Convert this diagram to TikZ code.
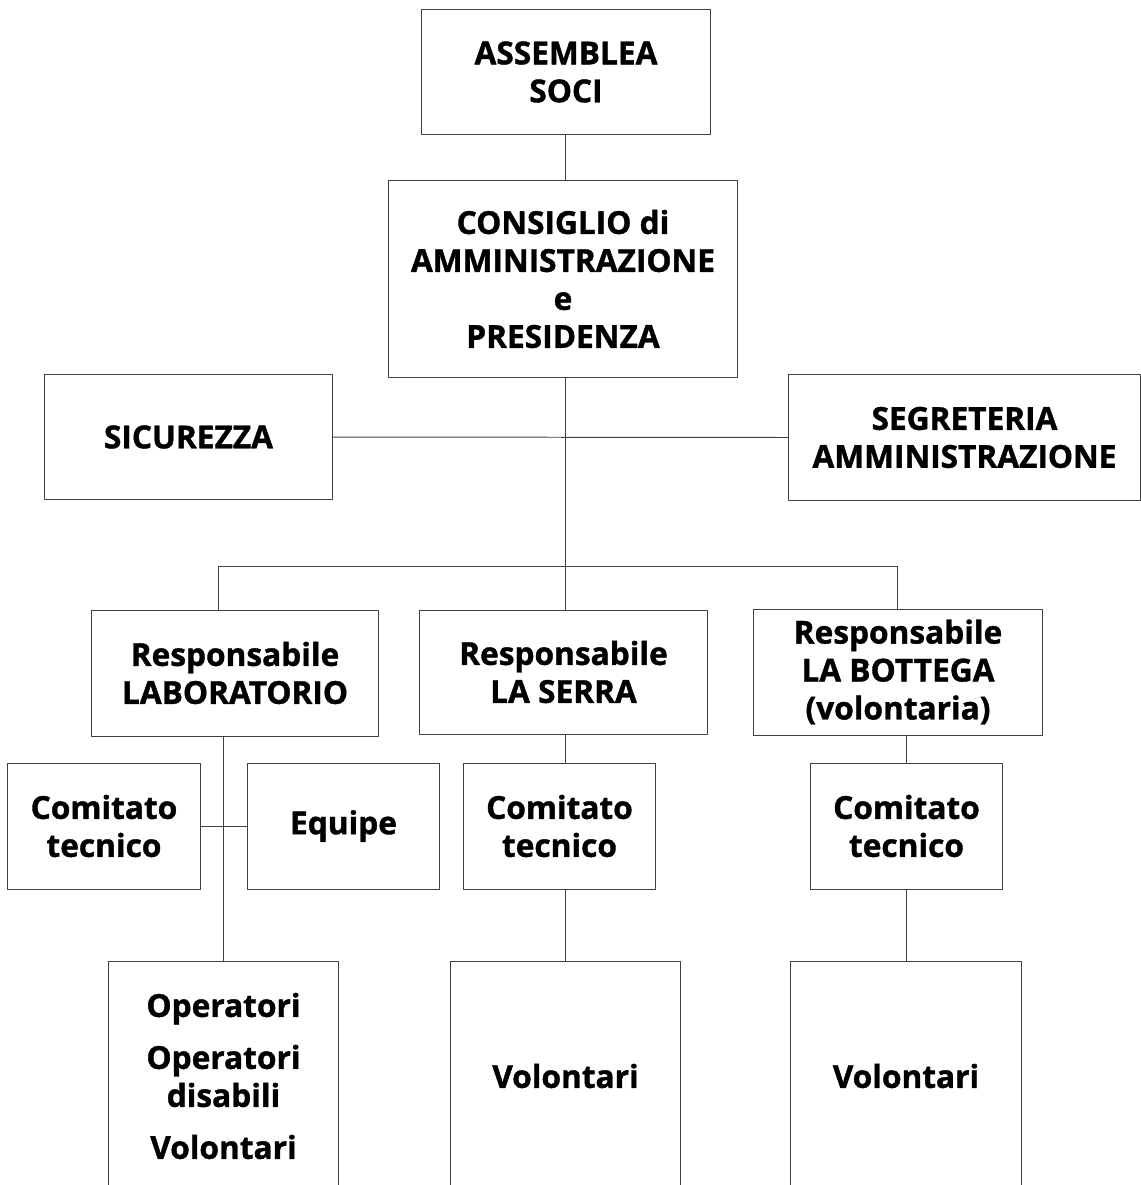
\documentclass[tikz,border=0pt]{standalone}
\usepackage{fontspec}
\setmainfont{Open Sans}[BoldFeatures={FakeBold=1.2}]
\usetikzlibrary{calc}

\begin{document}
\begin{tikzpicture}[x=0.025cm,y=-0.025cm,line join=round,
	box/.style={draw=black!75,line width=0.7pt,align=center,inner sep=0pt,
		font=\bfseries\fontsize{22.5}{27}\selectfont},
	link/.style={draw=black!75,line width=0.7pt}]
	\clip (0,0) rectangle (1141,1185);
	% vertice
	\node[box,minimum width=7.2cm,minimum height=3.1cm] (soci) at (566,72) {ASSEMBLEA\\SOCI};
	\node[box,minimum width=8.7cm,minimum height=4.9cm] (cda) at (563,279)
		{CONSIGLIO di\\AMMINISTRAZIONE\\e\\PRESIDENZA};
	\node[box,minimum width=7.175cm,minimum height=3.1cm] (sic) at (188.5,437) {SICUREZZA};
	\node[box,minimum width=8.775cm,minimum height=3.125cm] (seg) at (964.5,437.5)
		{SEGRETERIA\\AMMINISTRAZIONE};
	% responsabili
	\node[box,minimum width=7.15cm,minimum height=3.15cm] (lab) at (235,673) {Responsabile\\LABORATORIO};
	\node[box,minimum width=7.175cm,minimum height=3.1cm] (serra) at (563.5,672) {Responsabile\\LA SERRA};
	\node[box,minimum width=7.2cm,minimum height=3.15cm] (bott) at (898,672)
		{Responsabile\\LA BOTTEGA\\(volontaria)};
	% comitati
	\node[box,minimum width=4.8cm,minimum height=3.15cm] (ct1) at (104,826) {Comitato\\tecnico};
	\node[box,minimum width=4.775cm,minimum height=3.15cm] (equipe) at (343.5,826) {Equipe};
	\node[box,minimum width=4.8cm,minimum height=3.15cm] (ct2) at (559.5,826) {Comitato\\tecnico};
	\node[box,minimum width=4.8cm,minimum height=3.15cm] (ct3) at (906.5,826) {Comitato\\tecnico};
	% base
	\node[box,minimum width=5.725cm,minimum height=5.7cm] (op) at (223.5,1076)
		{Operatori\\[0.35cm]Operatori\\disabili\\[0.35cm]Volontari};
	\node[box,minimum width=5.725cm,minimum height=5.7cm] (vol2) at (565.5,1076) {Volontari};
	\node[box,minimum width=5.75cm,minimum height=5.7cm] (vol3) at (906,1076) {Volontari};
	% collegamenti
	\coordinate (hub) at (565,566);
	\coordinate (hl) at (218,566);
	\coordinate (hr) at (897,566);
	\draw[link] (soci.south -| hub) -- (cda.north -| hub);
	\draw[link] (cda.south -| hub) -- (hub);
	\draw[link] (sic.east) -- (seg.west);
	\draw[link] (hl) -- (hr);
	\draw[link] (hl) -- (hl |- lab.north);
	\draw[link] (hub) -- (hub |- serra.north);
	\draw[link] (hr) -- (hr |- bott.north);
	\draw[link] (lab.south -| op.north) -- (op.north);
	\draw[link] (ct1.east) -- (equipe.west);
	\draw[link] (serra.south -| hub) -- (ct2.north -| hub);
	\draw[link] (ct2.south -| vol2.north) -- (vol2.north);
	\draw[link] (bott.south -| ct3.north) -- (ct3.north);
	\draw[link] (ct3.south -| vol3.north) -- (vol3.north);
\end{tikzpicture}
\end{document}
